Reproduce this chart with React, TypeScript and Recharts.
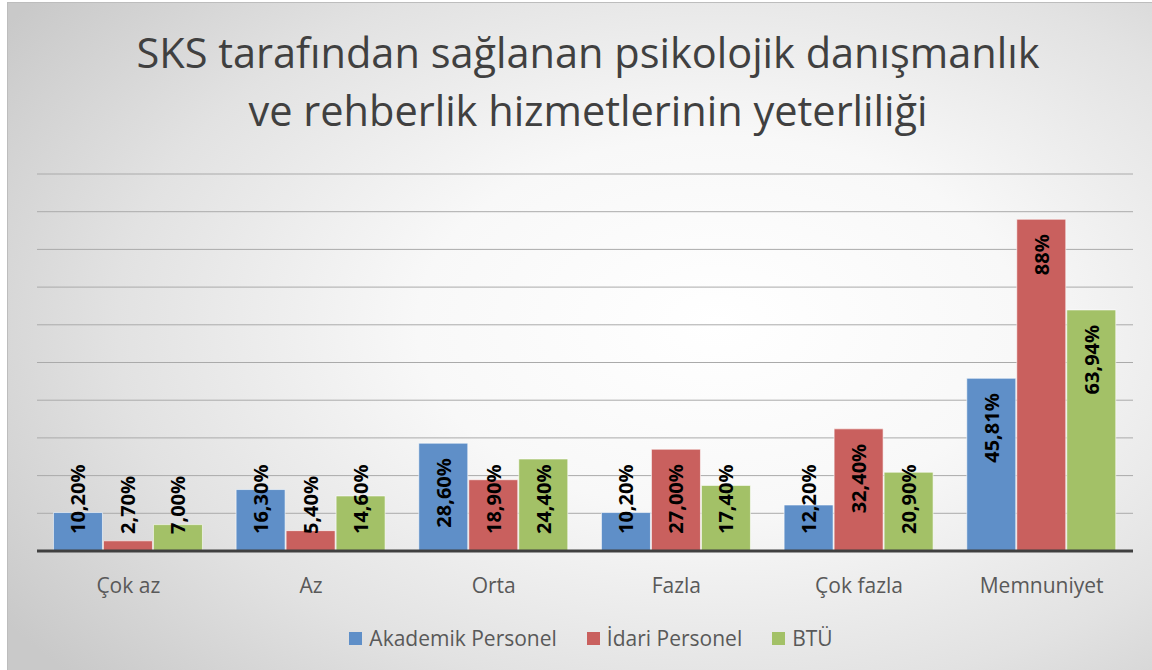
import React from "react";
import { Bar, BarChart, CartesianGrid, LabelList, Legend, XAxis, YAxis } from "recharts";

const categories = ["Çok az", "Az", "Orta", "Fazla", "Çok fazla", "Memnuniyet"];
const akademik = [10.2, 16.3, 28.6, 10.2, 12.2, 45.81];
const idari = [2.7, 5.4, 18.9, 27.0, 32.4, 88];
const btu = [7.0, 14.6, 24.4, 17.4, 20.9, 63.94];
const akademikLabels = ["10,20%", "16,30%", "28,60%", "10,20%", "12,20%", "45,81%"];
const idariLabels = ["2,70%", "5,40%", "18,90%", "27,00%", "32,40%", "88%"];
const btuLabels = ["7,00%", "14,60%", "24,40%", "17,40%", "20,90%", "63,94%"];
const gridTicks = [0, 10, 20, 30, 40, 50, 60, 70, 80, 90, 100];

const seriesNames = ["Akademik Personel", "İdari Personel", "BTÜ"];
const seriesColors = ["#5f8fc8", "#c9605e", "#a3c167"];

const FONT = "'Open Sans', 'Noto Sans', sans-serif";
const LABEL_FONT_SIZE = 20;

const data = categories.map((c, i) => ({
  name: c,
  akademik: akademik[i],
  idari: idari[i],
  btu: btu[i],
  akademikLabel: akademikLabels[i],
  idariLabel: idariLabels[i],
  btuLabel: btuLabels[i],
}));

let ctx: CanvasRenderingContext2D | null = null;
function textWidth(s: string) {
  if (!ctx) ctx = document.createElement("canvas").getContext("2d");
  if (!ctx) return s.length * LABEL_FONT_SIZE * 0.58;
  ctx.font = `bold ${LABEL_FONT_SIZE}px 'Open Sans'`;
  return ctx.measureText(s).width;
}

// Excel "inside end" etiketi: cubugun tepesinden asagi, kisa cubuklarda eksene dayanir
function VerticalLabel(props: any) {
  const { x, y, width, height, value } = props;
  const cx = x + width / 2;
  const axisY = y + height;
  const len = textWidth(String(value));
  const top = Math.min(y + 15, axisY - 17 - len);
  return (
    <text
      x={cx}
      y={top}
      transform={`rotate(-90, ${cx}, ${top})`}
      textAnchor="end"
      dominantBaseline="central"
      fontFamily={FONT}
      fontWeight="bold"
      fontSize={LABEL_FONT_SIZE}
      fill="#000000"
    >
      {value}
    </text>
  );
}

function LegendContent() {
  return (
    <div style={{ display: "flex", justifyContent: "center", alignItems: "center", gap: 30, fontFamily: FONT, fontSize: 21, color: "#595959", paddingTop: 8, paddingLeft: 12 }}>
      {seriesNames.map((n, i) => (
        <div key={n} style={{ display: "flex", alignItems: "center", gap: 7 }}>
          <span style={{ display: "inline-block", width: 13, height: 13, background: seriesColors[i] }} />
          <span>{n}</span>
        </div>
      ))}
    </div>
  );
}

export default function App() {
  return (
    <div style={{ position: "fixed", left: 0, top: 0, width: 1152, height: 670, background: "#ffffff", overflow: "hidden" }}>
      <div
        style={{
          position: "absolute",
          left: 7,
          top: 2,
          width: 1145,
          height: 668,
          borderLeft: "1px solid #bdbdbd",
          borderTop: "1px solid #bdbdbd",
          background: "radial-gradient(ellipse 75% 80% at 62% 48%, #ffffff 0%, #f8f8f8 35%, #e2e2e2 70%, #c9c9c9 100%)",
        }}
      >
        <div
          style={{
            position: "absolute",
            left: 0,
            top: 20,
            width: 1160,
            textAlign: "center",
            fontFamily: FONT,
            fontSize: 41.5,
            lineHeight: "58px",
            color: "#404040",
          }}
        >
          SKS tarafından sağlanan psikolojik danışmanlık
          <br />
          ve rehberlik hizmetlerinin yeterliliği
        </div>
        <div style={{ position: "absolute", left: 0, top: 0 }}>
          <BarChart
            width={1145}
            height={668}
            data={data}
            margin={{ top: 171, right: 20, left: 29, bottom: 15 }}
            barCategoryGap="9%"
            barGap={1}
          >
            <CartesianGrid vertical={false} stroke="#aaaaaa" strokeWidth={1} />
            <XAxis
              dataKey="name"
              height={65}
              axisLine={{ stroke: "#404040", strokeWidth: 3 }}
              tickLine={false}
              tickMargin={21}
              tick={{ fill: "#595959", fontSize: 21, fontFamily: FONT }}
            />
            <YAxis hide domain={[0, 100]} ticks={gridTicks} />
            <Legend verticalAlign="bottom" height={40} content={<LegendContent />} />
            <Bar dataKey="akademik" fill={seriesColors[0]} stroke="#ffffff" strokeOpacity={0.6} isAnimationActive={false}>
              <LabelList dataKey="akademikLabel" content={VerticalLabel} />
            </Bar>
            <Bar dataKey="idari" fill={seriesColors[1]} stroke="#ffffff" strokeOpacity={0.6} isAnimationActive={false}>
              <LabelList dataKey="idariLabel" content={VerticalLabel} />
            </Bar>
            <Bar dataKey="btu" fill={seriesColors[2]} stroke="#ffffff" strokeOpacity={0.6} isAnimationActive={false}>
              <LabelList dataKey="btuLabel" content={VerticalLabel} />
            </Bar>
          </BarChart>
        </div>
      </div>
    </div>
  );
}
